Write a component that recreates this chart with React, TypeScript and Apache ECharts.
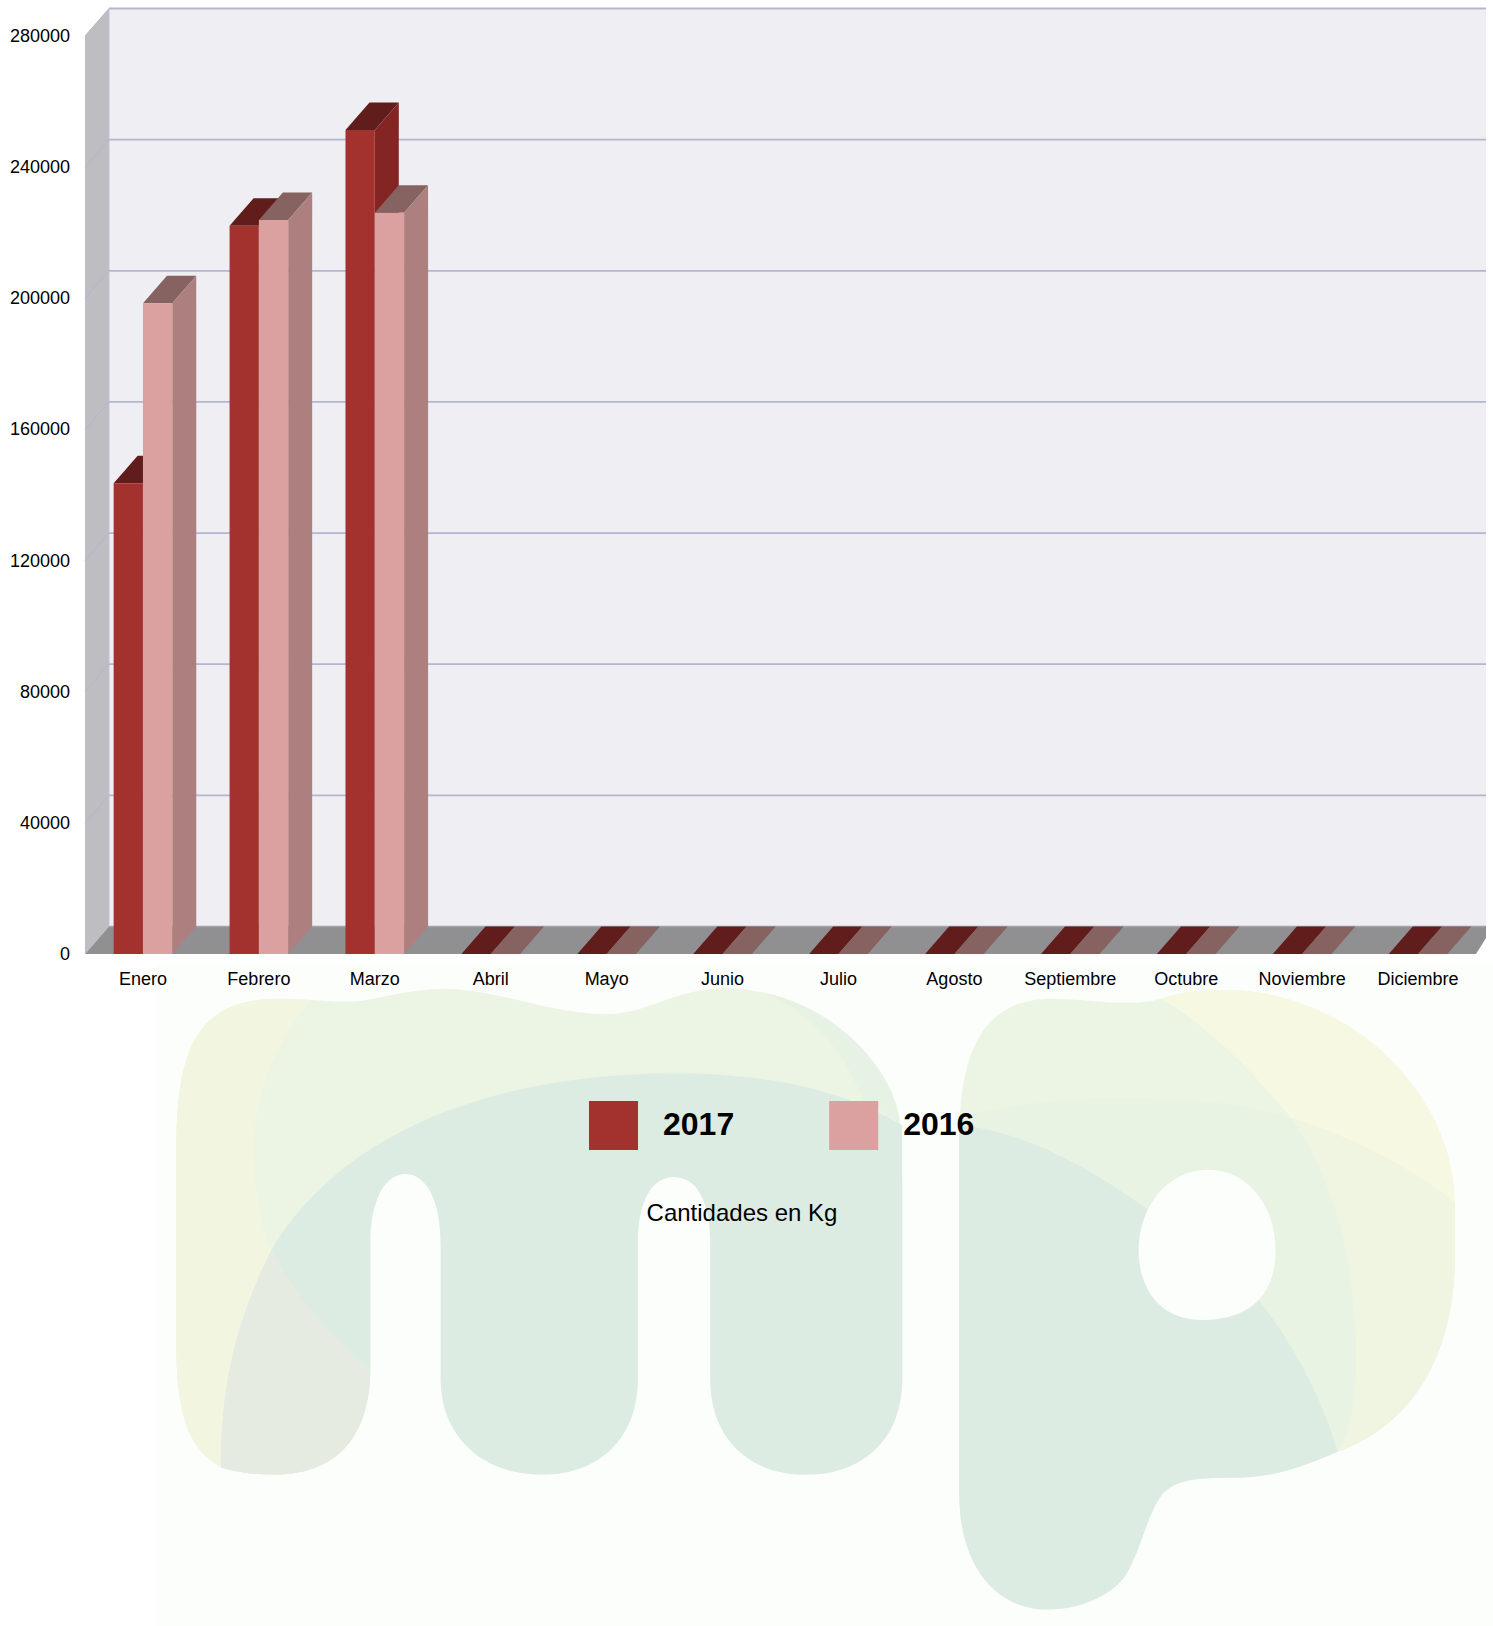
import React, { useEffect, useRef } from "react";
import * as echarts from "echarts";

const months = ["Enero", "Febrero", "Marzo", "Abril", "Mayo", "Junio", "Julio", "Agosto", "Septiembre", "Octubre", "Noviembre", "Diciembre"];
const values2017 = [143600, 222100, 251300, 0, 0, 0, 0, 0, 0, 0, 0, 0];
const values2016 = [198500, 223900, 226100, 0, 0, 0, 0, 0, 0, 0, 0, 0];
const yTicks = [0, 40000, 80000, 120000, 160000, 200000, 240000, 280000];
const seriesNames = ["2017", "2016"];
const unitLabel = "Cantidades en Kg";

const DX = 24;
const DY = 27.5;
const BAR = 29.3;
const CLIP_RIGHT = 10;
const GRID_LINE = "#b5b5d0";

const faces2017 = { front: "#a3322f", top: "#611c1c", side: "#832623" };
const faces2016 = { front: "#dba1a0", top: "#866261", side: "#ae7f7f" };

const logoPaths: Record<string, [string, string]> = {
  mBase: ["M170 1110 C170 1010 190 965 265 963 C290 962 320 968 350 965 C385 958 410 952 440 954 C490 958 535 978 585 978 C625 978 650 952 705 953 C805 958 870 1040 870 1140 L870 1330 C870 1385 835 1422 777 1422 C720 1422 685 1385 685 1330 L685 1200 C685 1155 670 1135 650 1135 C630 1135 615 1155 615 1200 L615 1330 C615 1385 580 1422 522 1422 C465 1422 425 1385 425 1330 L425 1200 C425 1155 410 1132 391 1132 C372 1132 357 1155 357 1200 L357 1320 C357 1385 325 1422 265 1422 C195 1422 170 1380 170 1300 Z", "#ecf4e4"],
  mYellow: ["M170 1110 C170 1010 190 965 265 963 L300 964 C270 1000 245 1050 245 1105 C245 1150 250 1180 262 1205 C235 1260 213 1320 213 1415 C185 1400 170 1370 170 1300 Z", "#f2f6e0"],
  mCrescent: ["M740 958 C815 975 866 1040 868 1085 C850 1070 840 1065 832 1060 C815 1015 785 980 740 958 Z", "#e6f2e4"],
  mDome: ["M213 1415 C213 1320 235 1260 262 1205 C330 1090 480 1035 650 1035 C750 1035 820 1055 870 1085 L870 1330 C870 1385 835 1422 777 1422 C720 1422 685 1385 685 1330 L685 1200 C685 1155 670 1135 650 1135 C630 1135 615 1155 615 1200 L615 1330 C615 1385 580 1422 522 1422 C465 1422 425 1385 425 1330 L425 1200 C425 1155 410 1132 391 1132 C372 1132 357 1155 357 1200 L357 1320 C357 1385 325 1422 265 1422 C245 1422 228 1420 213 1415 Z", "#ddece2"],
  mFoot: ["M262 1205 C285 1250 320 1290 357 1320 C357 1385 325 1422 265 1422 C245 1422 228 1420 213 1415 C213 1320 235 1260 262 1205 Z", "#e5ebe1"],
  pBase: ["M925 1100 C925 1010 950 963 1015 963 C1050 963 1085 972 1120 963 C1145 955 1165 954 1190 955 C1310 960 1403 1060 1403 1210 C1403 1310 1360 1375 1290 1400 C1260 1413 1230 1425 1190 1425 C1160 1425 1130 1425 1118 1445 C1105 1465 1100 1495 1085 1520 C1070 1540 1040 1552 1010 1552 C960 1552 925 1510 925 1440 Z", "#ecf4e4"],
  pYellow: ["M1120 963 C1145 955 1165 954 1190 955 C1310 960 1403 1060 1403 1160 C1360 1125 1300 1095 1245 1078 C1205 1030 1165 990 1120 963 Z", "#f6f8e2"],
  pRight: ["M1245 1078 C1300 1095 1360 1125 1403 1160 L1403 1210 C1403 1310 1360 1375 1290 1400 C1310 1370 1310 1300 1305 1260 C1300 1190 1280 1130 1245 1078 Z", "#eff5e1"],
  pBand: ["M925 1078 C990 1060 1060 1058 1110 1060 C1160 1060 1200 1065 1245 1078 C1280 1130 1300 1190 1305 1260 C1310 1300 1310 1370 1290 1400 L925 1400 Z", "#e9f3e3"],
  pDome: ["M925 1085 C985 1090 1050 1125 1105 1165 L1165 1200 L1215 1255 C1250 1300 1275 1350 1290 1400 C1260 1413 1230 1425 1190 1425 C1160 1425 1130 1425 1118 1445 C1105 1465 1100 1495 1085 1520 C1070 1540 1040 1552 1010 1552 C960 1552 925 1510 925 1440 Z", "#ddece2"],
  pHole: ["M1165 1128 C1205 1128 1230 1165 1230 1205 C1230 1250 1205 1272 1160 1273 C1120 1273 1098 1245 1098 1205 C1098 1165 1125 1128 1165 1128 Z", "#fcfefc"],
};

let registered = false;
function registerLogo() {
  if (registered) return;
  registered = true;
  Object.keys(logoPaths).forEach((k) => {
    echarts.graphic.registerShape("logo_" + k, echarts.graphic.extendPath(logoPaths[k][0] as any, {}) as any);
  });
}

function barRenderer(offsetBars: number, faces: { front: string; top: string; side: string }) {
  return (_params: any, api: any) => {
    const c = api.value(0);
    const v = api.value(1);
    const [cx, yTop] = api.coord([c, v]);
    const [, yBase] = api.coord([c, 0]);
    const x0 = cx + offsetBars * BAR;
    const x1 = x0 + BAR;
    const children: any[] = [];
    children.push({
      type: "polygon",
      shape: { points: [[x0, yTop], [x0 + DX, yTop - DY], [x1 + DX, yTop - DY], [x1, yTop]] },
      style: { fill: faces.top },
    });
    if (v > 0) {
      children.push({
        type: "polygon",
        shape: { points: [[x1, yTop], [x1 + DX, yTop - DY], [x1 + DX, yBase - DY], [x1, yBase]] },
        style: { fill: faces.side },
      });
      children.push({
        type: "rect",
        shape: { x: x0, y: yTop, width: BAR, height: yBase - yTop },
        style: { fill: faces.front },
      });
    }
    return { type: "group", children };
  };
}

function wallRenderer(params: any, api: any) {
  const v = api.value(1);
  const cs = params.coordSys;
  const left = cs.x;
  const backLeft = left + DX;
  const right = cs.x + cs.width;
  const backRight = right + CLIP_RIGHT;
  const [, y] = api.coord([0, v]);
  const children: any[] = [];
  if (v === 0) {
    const top = cs.y;
    children.push({
      type: "rect",
      shape: { x: backLeft, y: top - DY, width: backRight - backLeft, height: y - top },
      style: { fill: "#efeef3" },
    });
    children.push({
      type: "polygon",
      shape: { points: [[left, top], [backLeft, top - DY], [backLeft, y - DY], [left, y]] },
      style: { fill: "#bebdc2" },
    });
    children.push({
      type: "polygon",
      shape: { points: [[left, y], [backLeft, y - DY], [backRight, y - DY], [backRight, y - DY + CLIP_RIGHT * (DY / DX)], [right, y]] },
      style: { fill: "#909092" },
    });
    children.push({
      type: "line",
      shape: { x1: backLeft, y1: y - DY, x2: backRight, y2: y - DY },
      style: { stroke: "#a3a2b0", lineWidth: 1.5 },
    });
    children.push({
      type: "line",
      shape: { x1: backLeft, y1: top - DY, x2: backLeft, y2: y - DY },
      style: { stroke: "#c3c3d8", lineWidth: 1 },
    });
  } else {
    children.push({
      type: "line",
      shape: { x1: backLeft, y1: y - DY, x2: backRight, y2: y - DY },
      style: { stroke: GRID_LINE, lineWidth: 1.8 },
    });
    children.push({
      type: "line",
      shape: { x1: left, y1: y, x2: backLeft, y2: y - DY },
      style: { stroke: GRID_LINE, lineWidth: 1 },
    });
  }
  return { type: "group", children };
}

export default function App() {
  const ref = useRef<HTMLDivElement>(null);
  useEffect(() => {
    document.body.style.margin = "0";
    registerLogo();
    const chart = echarts.init(ref.current!, undefined, { renderer: "svg" });
    const font = "Liberation Sans, Arial, Helvetica, sans-serif";
    const S = 1493 / 1440;
    chart.setOption({
      animation: false,
      backgroundColor: "#ffffff",
      textStyle: { fontFamily: font },
      title: {
        text: unitLabel,
        left: 737,
        top: 1195,
        textAlign: "center",
        textStyle: { fontFamily: font, fontSize: 24, fontWeight: "normal", color: "#000000" },
      },
      legend: {
        data: seriesNames,
        left: 589,
        top: 1101,
        padding: 0,
        itemWidth: 49,
        itemHeight: 49,
        itemGap: 95,
        icon: "rect",
        selectedMode: false,
        formatter: (name: string) => "{t|" + name + "}",
        textStyle: {
          fontFamily: font,
          fontSize: 32,
          fontWeight: "bold",
          color: "#000000",
          padding: [0, 0, 0, 20],
          rich: {
            t: { fontFamily: font, fontSize: 32, fontWeight: "bold", color: "#000000", padding: [0, 0, 4, 0] },
          },
        },
      },
      graphic: [
        { type: "rect", z: -10, shape: { x: 155, y: 965, width: 1338, height: 661 }, style: { fill: "#fcfefc" }, silent: true },
        ...Object.keys(logoPaths).map((k) => ({
          type: "logo_" + k,
          x: 0,
          y: 0,
          z: -5,
          scaleX: S,
          scaleY: S,
          silent: true,
          style: { fill: logoPaths[k][1] },
        })),
      ],
      grid: { left: 85, top: 36, width: 1391, height: 918, containLabel: false },
      xAxis: {
        type: "category",
        data: months,
        axisLine: { show: false },
        axisTick: { show: false },
        axisLabel: { color: "#000000", fontSize: 18, margin: 16, fontFamily: font, interval: 0 },
      },
      yAxis: {
        type: "value",
        min: yTicks[0],
        max: yTicks[yTicks.length - 1],
        interval: yTicks[1] - yTicks[0],
        axisLine: { show: false },
        axisTick: { show: false },
        splitLine: { show: false },
        axisLabel: { color: "#000000", fontSize: 18, margin: 15, fontFamily: font, padding: [2, 0, 0, 0], formatter: (v: number) => String(v) },
      },
      series: [
        {
          type: "custom",
          name: "walls",
          z: 1,
          silent: true,
          renderItem: wallRenderer,
          encode: { x: 0, y: 1 },
          data: yTicks.map((t) => [0, t]),
        },
        {
          type: "custom",
          name: seriesNames[0],
          z: 3,
          silent: true,
          itemStyle: { color: faces2017.front },
          renderItem: barRenderer(-1, faces2017),
          encode: { x: 0, y: 1 },
          data: values2017.map((v, i) => [i, v]),
        },
        {
          type: "custom",
          name: seriesNames[1],
          z: 4,
          silent: true,
          itemStyle: { color: faces2016.front },
          renderItem: barRenderer(0, faces2016),
          encode: { x: 0, y: 1 },
          data: values2016.map((v, i) => [i, v]),
        },
      ],
    });
    return () => chart.dispose();
  }, []);
  return <div ref={ref} style={{ position: "absolute", left: 0, top: 0, width: 1493, height: 1626 }} />;
}
